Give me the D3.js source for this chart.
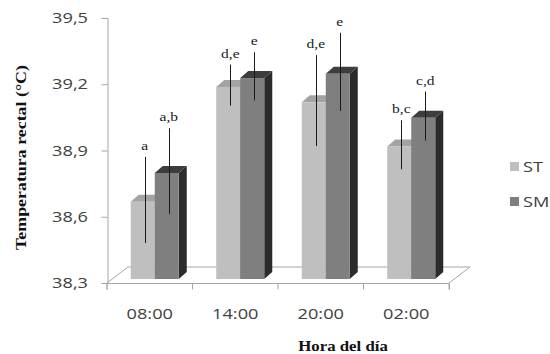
<!DOCTYPE html>
<html>
<head>
<meta charset="utf-8">
<script src="https://cdn.jsdelivr.net/npm/d3@7/dist/d3.min.js"></script>
<style>
  html, body { margin: 0; padding: 0; background: #fff; }
  svg { display: block; }
</style>
</head>
<body>
<svg id="chart" width="550" height="354"></svg>
<script>
// Rectal temperature by hour of day, two groups (ST, SM)
const categories = ["08:00", "14:00", "20:00", "02:00"];
const series = ["ST", "SM"];
const valuesST = [38.65, 39.17, 39.10, 38.90];
const valuesSM = [38.78, 39.21, 39.23, 39.03];
const errorST = [0.195, 0.093, 0.206, 0.111];
const errorSM = [0.195, 0.109, 0.177, 0.111];
const lettersST = ["a", "d,e", "d,e", "b,c"];
const lettersSM = ["a,b", "e", "e", "c,d"];
const yTicks = [38.3, 38.6, 38.9, 39.2, 39.5];

const svg = d3.select("#chart");

// plot frame
const plotLeft = 107, plotRight = 449, plotTop = 18, plotBottom = 283;
const floorDepth = { dx: 21, dy: -16 };   // back edge of the 3-D floor
const plane = { dx: 5, dy: -4 };          // bars sit a little behind the front edge
const depth = { dx: 8, dy: -7 };          // bar thickness
const stretch = 1.3;                      // horizontal widening of the lettering

const y = d3.scaleLinear().domain([38.3, 39.5]).range([plotBottom, plotTop]);
const x = d3.scaleBand().domain(categories).range([plotLeft, plotRight]).paddingInner(0).paddingOuter(0);
const bw = x.bandwidth();
const xs = d3.scaleBand().domain(series).range([bw / 2 - 24, bw / 2 + 24]);

const gridColor = "#a6a6a6";

// floor
const floor = svg.append("g").attr("stroke", gridColor).attr("stroke-width", 1).attr("fill", "none");
floor.append("path").attr("d", d3.line()([
  [plotLeft, plotBottom], [plotLeft + floorDepth.dx, plotBottom + floorDepth.dy],
  [plotRight + floorDepth.dx, plotBottom + floorDepth.dy], [plotRight, plotBottom]
]));

// value axis
const yAxis = svg.append("g").attr("transform", `translate(${plotLeft + 0.5},0)`)
  .call(d3.axisLeft(y).tickValues(yTicks).tickSize(6).tickFormat(() => ""));
yAxis.select(".domain").attr("stroke", gridColor);
yAxis.selectAll(".tick line").attr("stroke", gridColor);

// category axis
const xAxis = svg.append("g").attr("transform", `translate(0,${plotBottom + 0.5})`)
  .call(d3.axisBottom(x).tickSize(6).tickFormat(() => ""));
xAxis.select(".domain").attr("stroke", gridColor).attr("d", `M${plotLeft},6V0H${plotRight}V6`);
xAxis.selectAll(".tick line").attr("stroke", gridColor).attr("transform", `translate(${-bw / 2},0)`);
// closing tick at the right end
xAxis.append("line").attr("x1", plotRight + 0.5).attr("x2", plotRight + 0.5).attr("y1", 0).attr("y2", 6).attr("stroke", gridColor);

// y tick labels
svg.append("g").selectAll("text").data(yTicks).join("text")
  .attr("transform", d => `translate(88,${y(d)}) scale(${stretch},1)`)
  .attr("dy", "0.36em")
  .attr("text-anchor", "end")
  .attr("font-family", "'Open Sans', sans-serif")
  .attr("font-size", 14)
  .attr("fill", "#404040")
  .text(d => d3.format(".1f")(d).replace(".", ","));

// x tick labels
svg.append("g").selectAll("text").data(categories).join("text")
  .attr("transform", d => `translate(${x(d) + bw / 2},319) scale(${stretch},1)`)
  .attr("text-anchor", "middle")
  .attr("font-family", "'Open Sans', sans-serif")
  .attr("font-size", 14)
  .attr("fill", "#404040")
  .text(d => d);

// bars
const styles = {
  ST: { front: "#bfbfbf", top: "#a3a3a3", side: "#8c8c8c" },
  SM: { front: "#7f7f7f", top: "#3d3d3d", side: "#2b2b2b" }
};
const rows = [];
categories.forEach((c, i) => {
  rows.push({ cat: c, s: "ST", v: valuesST[i], e: errorST[i], lab: lettersST[i] });
  rows.push({ cat: c, s: "SM", v: valuesSM[i], e: errorSM[i], lab: lettersSM[i] });
});

const barBase = y(38.3) + plane.dy;
const bars = svg.append("g");
rows.forEach(r => {
  const x0 = x(r.cat) + xs(r.s) + plane.dx;
  const x1 = x0 + xs.bandwidth();
  const yt = y(r.v) + plane.dy;
  const st = styles[r.s];
  const g = bars.append("g");
  g.append("path").attr("fill", st.top).attr("d", d3.line()([
    [x0, yt], [x0 + depth.dx, yt + depth.dy], [x1 + depth.dx, yt + depth.dy], [x1, yt]
  ]) + "Z");
  g.append("path").attr("fill", st.side).attr("d", d3.line()([
    [x1, yt], [x1 + depth.dx, yt + depth.dy], [x1 + depth.dx, barBase + depth.dy], [x1, barBase]
  ]) + "Z");
  g.append("rect").attr("fill", st.front)
    .attr("x", x0).attr("y", yt).attr("width", x1 - x0).attr("height", barBase - yt);
});

// error bars and significance letters
const ef = 0.25; // position in bar depth where the whisker stands
const err = svg.append("g");
rows.forEach(r => {
  const cx = x(r.cat) + xs(r.s) + plane.dx + xs.bandwidth() / 2 + depth.dx * ef;
  const off = plane.dy + depth.dy * ef;
  const yHi = y(r.v + r.e) + off;
  const yLo = y(r.v - r.e) + off;
  err.append("line")
    .attr("x1", Math.round(cx) + 0.5).attr("x2", Math.round(cx) + 0.5)
    .attr("y1", yHi).attr("y2", yLo)
    .attr("stroke", "#1a1a1a").attr("stroke-width", 1);
  err.append("text")
    .attr("transform", `translate(${cx},${yHi - 7}) scale(1.15,1)`)
    .attr("text-anchor", "middle")
    .attr("font-family", "'Liberation Serif', 'Times New Roman', serif")
    .attr("font-size", 13.5)
    .attr("fill", "#1a1a1a")
    .text(r.lab);
});

// axis titles
svg.append("text")
  .attr("transform", "translate(26,157.5) rotate(-90)")
  .attr("text-anchor", "middle")
  .attr("font-family", "'Liberation Serif', 'Times New Roman', serif")
  .attr("font-weight", "bold")
  .attr("font-size", 15.5)
  .attr("fill", "#111")
  .attr("textLength", 185)
  .attr("lengthAdjust", "spacingAndGlyphs")
  .text("Temperatura rectal  (°C)");

svg.append("text")
  .attr("transform", `translate(343,351) scale(1.2,1)`)
  .attr("text-anchor", "middle")
  .attr("font-family", "'Liberation Serif', 'Times New Roman', serif")
  .attr("font-weight", "bold")
  .attr("font-size", 14)
  .attr("fill", "#111")
  .text("Hora del día");

// legend
const legend = svg.append("g");
series.forEach((s, i) => {
  const ly = 162 + i * 35;
  legend.append("rect").attr("x", 510).attr("y", ly).attr("width", 9).attr("height", 9)
    .attr("fill", styles[s].front);
  legend.append("text")
    .attr("transform", `translate(523,${ly + 4.5}) scale(${stretch},1)`)
    .attr("dy", "0.36em")
    .attr("font-family", "'Open Sans', sans-serif")
    .attr("font-size", 14)
    .attr("fill", "#404040")
    .text(s);
});
</script>
</body>
</html>
